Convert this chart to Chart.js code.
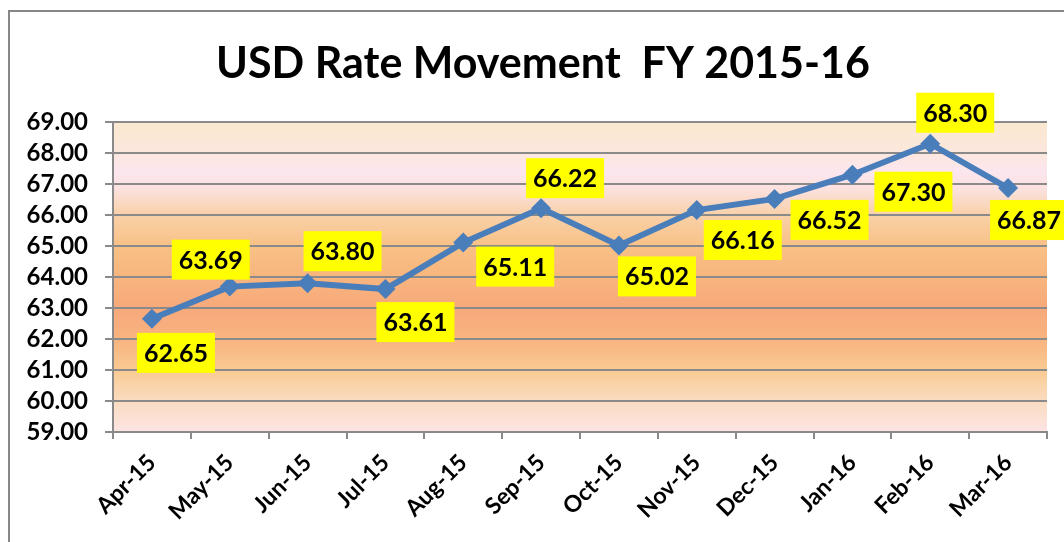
<!DOCTYPE html>
<html>
<head>
<meta charset="utf-8">
<script src="https://cdn.jsdelivr.net/npm/chart.js@4"></script>
<style>
  html, body { margin: 0; padding: 0; background: #fff; }
  #wrap { position: relative; width: 1064px; height: 542px; }
  #frame { position: absolute; left: 8px; top: 10px; right: -4px; bottom: -4px; border-left: 2px solid #878787; border-top: 2px solid #878787; pointer-events: none; }
  canvas { position: absolute; left: 0; top: 0; }
</style>
</head>
<body>
<div id="wrap">
  <canvas id="c" width="1064" height="542"></canvas>
  <div id="frame"></div>
</div>
<script>
const titleText = 'USD Rate Movement  FY 2015-16';
const months = ['Apr-15','May-15','Jun-15','Jul-15','Aug-15','Sep-15','Oct-15','Nov-15','Dec-15','Jan-16','Feb-16','Mar-16'];
const usdRates = [62.65, 63.69, 63.80, 63.61, 65.11, 66.22, 65.02, 66.16, 66.52, 67.30, 68.30, 66.87];
const yMin = 59, yMax = 69, yStep = 1;

// label box centre offsets from each point (layout only)
const labelOffsets = [[24,34],[-19,-27],[35,-32],[30,33],[52,24],[24,-30],[38,31],[46,30],[55,21],[61,17],[25,-31],[21,32]];

const FONT = 'Lato, "Open Sans", sans-serif';

const bgPlugin = {
  id: 'bg',
  beforeDraw(chart) {
    const { ctx, chartArea: a } = chart;
    const g = ctx.createLinearGradient(0, a.top, 0, a.bottom);
    g.addColorStop(0.00, '#FAE8CE');
    g.addColorStop(0.10, '#FCE7DE');
    g.addColorStop(0.16, '#FCE6EF');
    g.addColorStop(0.22, '#FBE0DC');
    g.addColorStop(0.30, '#F9D1A8');
    g.addColorStop(0.40, '#F8C186');
    g.addColorStop(0.50, '#F8B57E');
    g.addColorStop(0.60, '#F7A97B');
    g.addColorStop(0.70, '#F8B380');
    g.addColorStop(0.80, '#F9CA92');
    g.addColorStop(0.90, '#FADCC0');
    g.addColorStop(1.00, '#FCE4E4');
    ctx.save();
    ctx.fillStyle = g;
    ctx.fillRect(a.left, a.top, a.right - a.left, a.bottom - a.top);
    ctx.restore();
  },
  afterDraw(chart) {
    const { ctx } = chart;
    ctx.save();
    ctx.fillStyle = '#000';
    ctx.font = 'bold 43px ' + FONT;
    ctx.textAlign = 'center';
    ctx.textBaseline = 'middle';
    ctx.fillText(titleText, 543, 64);
    ctx.restore();
  }
};

const labelPlugin = {
  id: 'boxLabels',
  afterDatasetsDraw(chart) {
    const { ctx } = chart;
    const meta = chart.getDatasetMeta(0);
    ctx.save();
    ctx.font = 'bold 25px ' + FONT;
    ctx.textAlign = 'center';
    ctx.textBaseline = 'middle';
    meta.data.forEach((pt, i) => {
      const [dx, dy] = labelOffsets[i];
      const cx = pt.x + dx, cy = pt.y + dy;
      ctx.fillStyle = '#FFFF00';
      ctx.fillRect(cx - 39, cy - 20, 78, 40);
      ctx.fillStyle = '#000';
      ctx.fillText(usdRates[i].toFixed(2), cx, cy + 1);
    });
    ctx.restore();
  }
};

new Chart(document.getElementById('c'), {
  type: 'line',
  data: {
    labels: months,
    datasets: [{
      data: usdRates,
      borderColor: '#4A7EBB',
      backgroundColor: '#4A7EBB',
      borderWidth: 6,
      pointStyle: 'rectRot',
      pointRadius: 10,
      pointBorderWidth: 0,
      tension: 0
    }]
  },
  options: {
    responsive: false,
    animation: false,
    layout: { padding: { top: 122, right: 17, left: 0, bottom: 0 } },
    plugins: { legend: { display: false }, tooltip: { enabled: false }, title: { display: false } },
    scales: {
      x: {
        offset: true,
        afterFit(s) { s.height = 110; },
        grid: { offset: true, drawOnChartArea: false, drawTicks: true, tickLength: 7, color: '#8a8a8a', lineWidth: 2 },
        border: { display: true, color: '#8a8a8a', width: 2 },
        ticks: { autoSkip: false, maxRotation: 45, minRotation: 45, padding: 10, color: '#000', font: { family: FONT, size: 23, weight: 'bold' } }
      },
      y: {
        min: yMin, max: yMax,
        afterFit(s) { s.width = 113; },
        grid: { color: '#8a8a8a', lineWidth: 2, tickLength: 8, drawTicks: true },
        border: { display: true, color: '#8a8a8a', width: 2 },
        ticks: { autoSkip: false, stepSize: yStep, padding: 17, color: '#000', font: { family: FONT, size: 24, weight: 'bold' }, callback: v => Number(v).toFixed(2) }
      }
    }
  },
  plugins: [bgPlugin, labelPlugin]
});
</script>
</body>
</html>
